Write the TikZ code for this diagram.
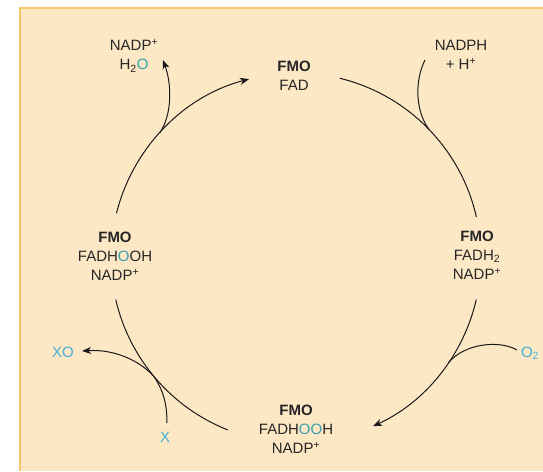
\documentclass[tikz,border=0pt]{standalone}
\usepackage{fontspec}
\setmainfont{Liberation Sans}
\usetikzlibrary{arrows.meta,calc}
\definecolor{bgfill}{RGB}{253,232,197}
\definecolor{bgline}{RGB}{247,198,107}
\definecolor{oteal}{RGB}{55,160,175}
\definecolor{subblue}{RGB}{70,175,212}
\definecolor{txt}{RGB}{38,38,38}
\definecolor{ln}{RGB}{25,25,25}
\begin{document}
\begin{tikzpicture}[x=1pt,y=1pt,
  lbl/.style={align=center,text=txt,inner sep=0pt,font=\fontsize{15}{19}\selectfont},
  blu/.style={text=subblue,inner sep=0pt,font=\fontsize{15}{19}\selectfont},
  conn/.style={draw=ln,line width=1pt},
  tip/.style={-{Stealth[length=9pt,width=7pt,inset=2.5pt]}}]
\useasboundingbox (0,0) rectangle (543,471);
% background panel
\fill[bgfill] (20,0) rectangle (543,463);
\draw[bgline,line width=2pt] (20,0) -- (20,463) -- (543,463);
% states
\node[lbl] (top) at (294,395) {\textbf{FMO}\\FAD};
\node[lbl] (right) at (477,216) {\textbf{FMO}\\FADH\textsubscript{2}\\NADP\textsuperscript{+}};
\node[lbl] (bottom) at (296,42) {\textbf{FMO}\\FADH\textcolor{oteal}{OO}H\\NADP\textsuperscript{+}};
\node[lbl] (left) at (115,215) {\textbf{FMO}\\FADH\textcolor{oteal}{O}OH\\NADP\textsuperscript{+}};
% side species
\node[lbl] (nadpout) at (134,415) {NADP\textsuperscript{+}\\H\textsubscript{2}\textcolor{oteal}{O}};
\node[lbl] (nadph) at (461,416) {NADPH\\+ H\textsuperscript{+}};
\node[blu] (xo) at (63,119) {XO};
\node[blu] (x) at (165,34) {X};
\node[blu] (o2) at (530,118) {O\textsubscript{2}};
% circle centre and arc end points
\coordinate (c) at (296,213);
\coordinate (a1s) at ($(c)+(166:185)$);
\coordinate (a2s) at ($(c)+(76.3:185)$);
\coordinate (a3s) at ($(c)+(-13:185)$);
\coordinate (a4s) at ($(c)+(248.3:185)$);
% main cycle arcs
\draw[conn,tip] (a1s) arc[start angle=166,end angle=104.7,radius=185pt];
\draw[conn] (a2s) arc[start angle=76.3,end angle=12.8,radius=185pt];
\draw[conn,tip] (a3s) arc[start angle=-13,end angle=-65.4,radius=185pt];
\draw[conn] (a4s) arc[start angle=248.3,end angle=193,radius=185pt];
% side branches
\coordinate (nadphin) at (425,411);
\coordinate (nadphj) at ($(c)+(44.1:185)$);
\draw[conn] (nadphin) .. controls (414,389) and (416,359) .. (nadphj);
\coordinate (nadpj) at ($(c)+(137.4:185)$);
\coordinate (nadpend) at (163,411);
\draw[conn,tip] (nadpj) .. controls (172,356) and (172,386) .. (nadpend);
\coordinate (xin) at (167,48);
\coordinate (xj) at ($(c)+(219.8:185)$);
\coordinate (xoend) at (82,120);
\draw[conn,tip] (xin) .. controls (167,68) and (163,81) .. (xj) .. controls (140,110) and (115,122) .. (xoend);
\coordinate (o2in) at (517,121);
\coordinate (o2j) at ($(c)+(-34.4:185)$);
\draw[conn] (o2in) .. controls (500,131) and (465,128) .. (o2j);
\end{tikzpicture}
\end{document}
